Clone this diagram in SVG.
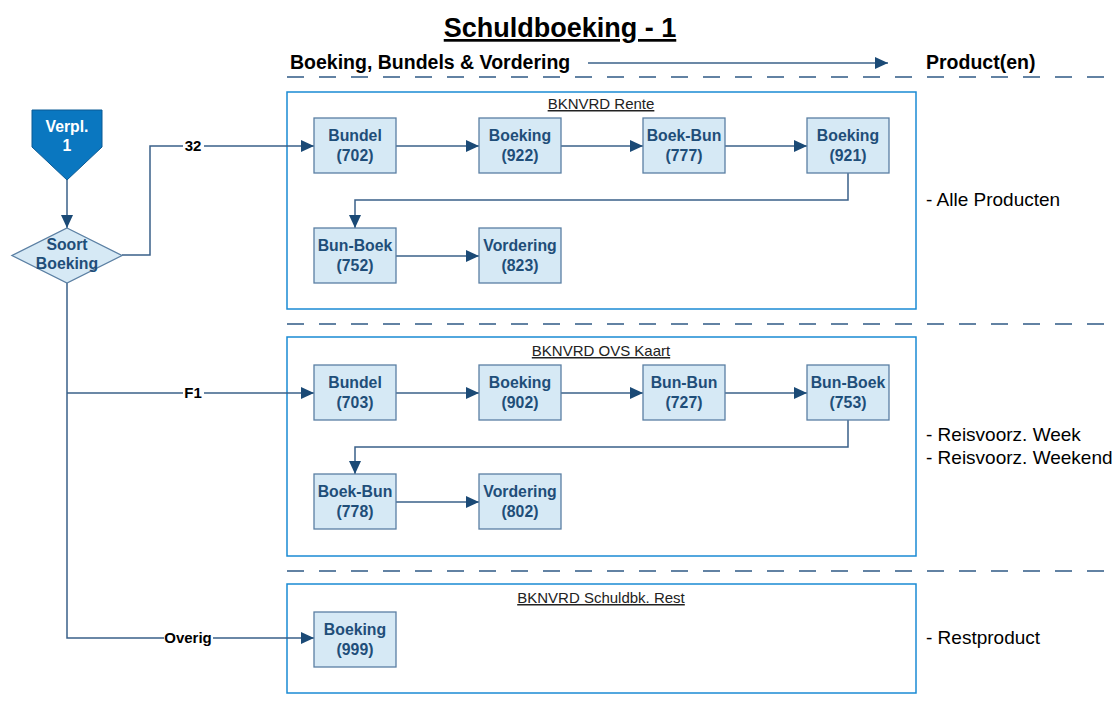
<svg xmlns="http://www.w3.org/2000/svg" width="1117" height="701" viewBox="0 0 1117 701">
<style>
.title{font-family:"Liberation Sans",Arial,sans-serif;font-weight:bold;font-size:27px;fill:#000;text-decoration:underline}
.hdr{font-family:"Liberation Sans",Arial,sans-serif;font-weight:bold;font-size:19.5px;fill:#000}
.prod{font-family:"Liberation Sans",Arial,sans-serif;font-size:19px;fill:#000}
.grp{fill:none;stroke:#1a8ad4;stroke-width:1.5}
.gl{font-family:"Liberation Sans",Arial,sans-serif;font-size:15px;fill:#222;text-anchor:middle;text-decoration:underline}
.node rect{fill:#d6e9f5;stroke:#5a7fa3;stroke-width:1.3}
.nt{font-family:"Liberation Sans",Arial,sans-serif;font-weight:bold;font-size:15.8px;fill:#1f4e79;text-anchor:middle}
.wt{font-family:"Liberation Sans",Arial,sans-serif;font-weight:bold;font-size:15.8px;fill:#fff;text-anchor:middle}
.dash{stroke:#2f5a85;stroke-width:1.5;stroke-dasharray:17,15;fill:none}
.c{fill:none;stroke:#3a6089;stroke-width:1.5}
.cl{font-family:"Liberation Sans",Arial,sans-serif;font-weight:bold;font-size:15px;fill:#000;text-anchor:middle}
</style>
<defs>
<marker id="arr" markerUnits="userSpaceOnUse" markerWidth="13" markerHeight="12" viewBox="0 0 13 12" refX="13" refY="6" orient="auto">
<path d="M0,0 L13,6 L0,12 Z" fill="#1b4a76"/>
</marker>
</defs>
<rect width="1117" height="701" fill="#fff"/>
<text class="title" x="560" y="37" text-anchor="middle">Schuldboeking - 1</text>
<text class="hdr" x="290" y="69">Boeking, Bundels &amp; Vordering</text>
<text class="hdr" x="926" y="69">Product(en)</text>
<line x1="588" y1="63" x2="888" y2="63" class="c" marker-end="url(#arr)"/>
<line class="dash" x1="287" y1="77" x2="1117" y2="77"/>
<line class="dash" x1="287" y1="324" x2="1117" y2="324"/>
<line class="dash" x1="287" y1="571" x2="1117" y2="571"/>

<g id="group-rente">
<rect class="grp" x="287" y="92" width="629" height="217"/>
<text class="gl" x="601" y="109">BKNVRD Rente</text>
</g>
<g id="group-ovs">
<rect class="grp" x="287" y="337" width="629" height="219"/>
<text class="gl" x="601" y="356">BKNVRD OVS Kaart</text>
</g>
<g id="group-rest">
<rect class="grp" x="287" y="584" width="629" height="109"/>
<text class="gl" x="601" y="603">BKNVRD Schuldbk. Rest</text>
</g>

<text class="prod" x="926" y="206">- Alle Producten</text>
<text class="prod" x="926" y="441">- Reisvoorz. Week</text>
<text class="prod" x="926" y="464">- Reisvoorz. Weekend</text>
<text class="prod" x="926" y="644">- Restproduct</text>

<g id="connectors">
<path class="c" d="M67,180 V228" marker-end="url(#arr)"/>
<path class="c" d="M122,255 H150 V146 H314" marker-end="url(#arr)"/>
<path class="c" d="M67,283 V638 H314" marker-end="url(#arr)"/>
<path class="c" d="M67,393 H314" marker-end="url(#arr)"/>
<path class="c" d="M396,146 H479" marker-end="url(#arr)"/>
<path class="c" d="M561,146 H643" marker-end="url(#arr)"/>
<path class="c" d="M725,146 H807" marker-end="url(#arr)"/>
<path class="c" d="M848,173 V200 H355 V228" marker-end="url(#arr)"/>
<path class="c" d="M396,256 H479" marker-end="url(#arr)"/>
<path class="c" d="M396,393 H479" marker-end="url(#arr)"/>
<path class="c" d="M561,393 H643" marker-end="url(#arr)"/>
<path class="c" d="M725,393 H807" marker-end="url(#arr)"/>
<path class="c" d="M848,420 V447 H355 V474" marker-end="url(#arr)"/>
<path class="c" d="M396,502 H479" marker-end="url(#arr)"/>
<rect x="183" y="137" width="21" height="17" fill="#fff"/>
<text class="cl" x="193" y="151">32</text>
<rect x="183" y="384" width="21" height="17" fill="#fff"/>
<text class="cl" x="193" y="398">F1</text>
<rect x="164" y="629" width="49" height="17" fill="#fff"/>
<text class="cl" x="188" y="643">Overig</text>
</g>

<g id="verpl1">
<path d="M32,110 H102 V147 L67,180 L32,147 Z" fill="#0a77c0" stroke="#0a5a94" stroke-width="1"/>
<text class="wt" x="67" y="132">Verpl.</text>
<text class="wt" x="67" y="151">1</text>
</g>
<g id="soort-boeking">
<path d="M67,228 L122,255.5 L67,283 L12,255.5 Z" fill="#d6e9f5" stroke="#5a7fa3" stroke-width="1.3"/>
<text class="nt" x="67" y="250">Soort</text>
<text class="nt" x="67" y="269">Boeking</text>
</g>

<g id="n702" class="node"><rect x="314" y="118" width="82" height="55"/><text class="nt" x="355" y="141">Bundel</text><text class="nt" x="355" y="161">(702)</text></g>
<g id="n922" class="node"><rect x="479" y="118" width="82" height="55"/><text class="nt" x="520" y="141">Boeking</text><text class="nt" x="520" y="161">(922)</text></g>
<g id="n777" class="node"><rect x="643" y="118" width="82" height="55"/><text class="nt" x="684" y="141">Boek-Bun</text><text class="nt" x="684" y="161">(777)</text></g>
<g id="n921" class="node"><rect x="807" y="118" width="82" height="55"/><text class="nt" x="848" y="141">Boeking</text><text class="nt" x="848" y="161">(921)</text></g>
<g id="n752" class="node"><rect x="314" y="228" width="82" height="55"/><text class="nt" x="355" y="251">Bun-Boek</text><text class="nt" x="355" y="271">(752)</text></g>
<g id="n823" class="node"><rect x="479" y="228" width="82" height="55"/><text class="nt" x="520" y="251">Vordering</text><text class="nt" x="520" y="271">(823)</text></g>

<g id="n703" class="node"><rect x="314" y="365" width="82" height="55"/><text class="nt" x="355" y="388">Bundel</text><text class="nt" x="355" y="408">(703)</text></g>
<g id="n902" class="node"><rect x="479" y="365" width="82" height="55"/><text class="nt" x="520" y="388">Boeking</text><text class="nt" x="520" y="408">(902)</text></g>
<g id="n727" class="node"><rect x="643" y="365" width="82" height="55"/><text class="nt" x="684" y="388">Bun-Bun</text><text class="nt" x="684" y="408">(727)</text></g>
<g id="n753" class="node"><rect x="807" y="365" width="82" height="55"/><text class="nt" x="848" y="388">Bun-Boek</text><text class="nt" x="848" y="408">(753)</text></g>
<g id="n778" class="node"><rect x="314" y="474" width="82" height="55"/><text class="nt" x="355" y="497">Boek-Bun</text><text class="nt" x="355" y="517">(778)</text></g>
<g id="n802" class="node"><rect x="479" y="474" width="82" height="55"/><text class="nt" x="520" y="497">Vordering</text><text class="nt" x="520" y="517">(802)</text></g>

<g id="n999" class="node"><rect x="314" y="612" width="82" height="55"/><text class="nt" x="355" y="635">Boeking</text><text class="nt" x="355" y="655">(999)</text></g>
</svg>
